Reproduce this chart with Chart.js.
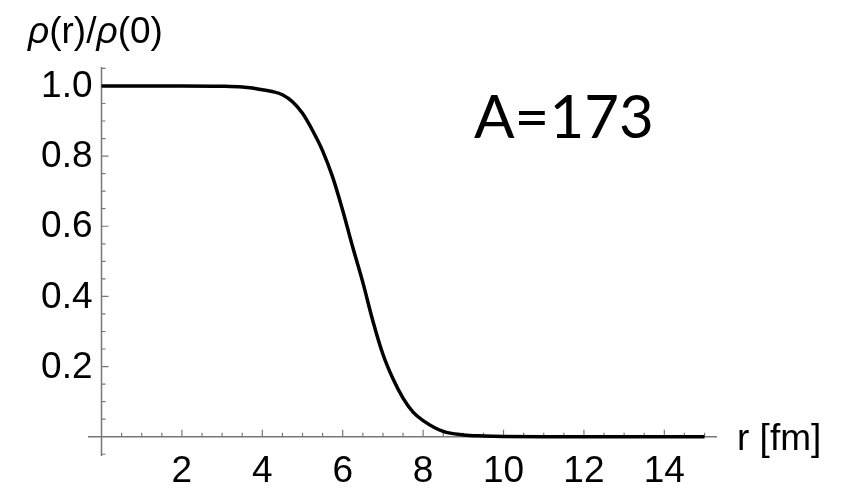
<!DOCTYPE html>
<html>
<head>
<meta charset="utf-8">
<script src="https://cdn.jsdelivr.net/npm/chart.js@4"></script>
<style>
    html, body { margin: 0; padding: 0; background: #fff; }
    #wrap { width: 851px; height: 488px; }
</style>
</head>
<body>
<div id="wrap"><canvas id="densityChart"></canvas></div>
<script>
// radius values (fm) and normalised density
const rValues = [0, 1, 2, 3, 3.5, 3.75, 4, 4.25, 4.5, 4.75, 5, 5.25, 5.5, 5.75, 6, 6.25, 6.5, 6.75, 7, 7.25, 7.5, 7.75, 8, 8.5, 9, 9.5, 10, 11, 12, 13, 14, 15];
const densityValues = [1, 1, 1, 0.999, 0.997, 0.994, 0.989, 0.984, 0.975, 0.955, 0.922, 0.873, 0.815, 0.74, 0.645, 0.54, 0.44, 0.33, 0.235, 0.165, 0.11, 0.07, 0.046, 0.015, 0.005, 0.002, 0.0005, 0, 0, 0, 0, 0];

const xTickValues = [2, 4, 6, 8, 10, 12, 14];
const xTickLabels = ['2', '4', '6', '8', '10', '12', '14'];
const yTickValues = [0.2, 0.4, 0.6, 0.8, 1.0];
const yTickLabels = ['0.2', '0.4', '0.6', '0.8', '1.0'];

const tickFont = '37px "Liberation Sans", Arial, sans-serif';
const axisColor = '#777';

// axes crossing at the origin, Mathematica style (ticks pointing inward)
const crossAxes = {
    id: 'crossAxes',
    beforeDatasetsDraw(chart) {
        const ctx = chart.ctx;
        const xs = chart.scales.x;
        const ys = chart.scales.y;
        const area = chart.chartArea;
        const x0 = xs.getPixelForValue(0);
        const y0 = ys.getPixelForValue(0);

        ctx.save();
        ctx.strokeStyle = axisColor;
        ctx.lineWidth = 1.5;
        ctx.beginPath();
        ctx.moveTo(area.left, y0);
        ctx.lineTo(area.right, y0);
        ctx.moveTo(x0, area.top);
        ctx.lineTo(x0, area.bottom);
        ctx.stroke();

        // x ticks every 0.5, major every 2
        ctx.lineWidth = 1.2;
        ctx.beginPath();
        for (let i = 1; i <= 30; i++) {
            const v = i * 0.5;
            const px = xs.getPixelForValue(v);
            const len = (v % 2 === 0) ? 7 : 4;
            ctx.moveTo(px, y0);
            ctx.lineTo(px, y0 - len);
        }
        // y ticks every 0.05, major every 0.2
        for (let i = -1; i <= 21; i++) {
            if (i === 0) continue;
            const v = i * 0.05;
            const py = ys.getPixelForValue(v);
            const len = (i % 4 === 0) ? 7 : 4;
            ctx.moveTo(x0, py);
            ctx.lineTo(x0 + len, py);
        }
        ctx.stroke();
        ctx.restore();
    },
    afterDraw(chart) {
        const ctx = chart.ctx;
        const xs = chart.scales.x;
        const ys = chart.scales.y;
        const x0 = xs.getPixelForValue(0);
        const y0 = ys.getPixelForValue(0);

        ctx.save();
        ctx.fillStyle = '#000';
        ctx.font = tickFont;

        ctx.textAlign = 'center';
        ctx.textBaseline = 'alphabetic';
        xTickValues.forEach((v, i) => {
            ctx.fillText(xTickLabels[i], xs.getPixelForValue(v), y0 + 45);
        });

        ctx.textAlign = 'right';
        ctx.textBaseline = 'middle';
        yTickValues.forEach((v, i) => {
            ctx.fillText(yTickLabels[i], x0 - 9, ys.getPixelForValue(v) + 1);
        });

        // x axis title
        ctx.textAlign = 'left';
        ctx.textBaseline = 'alphabetic';
        ctx.fillText('r [fm]', 737, y0 + 13);

        // y axis title with italic rho
        let tx = 28;
        const parts = [['ρ', true], ['(r)/', false], ['ρ', true], ['(0)', false]];
        parts.forEach(([txt, italic]) => {
            ctx.font = (italic ? 'italic ' : '') + '37px "Liberation Sans", Arial, sans-serif';
            ctx.fillText(txt, tx, 43);
            tx += ctx.measureText(txt).width;
        });

        // annotation
        ctx.font = '60px Lato, "Open Sans", sans-serif';
        ctx.fillText('A=173', 474, 138);
        ctx.restore();
    }
};

new Chart(document.getElementById('densityChart'), {
    type: 'line',
    data: {
        datasets: [{
            data: rValues.map((r, i) => ({ x: r, y: densityValues[i] })),
            borderColor: '#000',
            borderWidth: 3.5,
            pointRadius: 0,
            cubicInterpolationMode: 'monotone',
            fill: false
        }]
    },
    options: {
        responsive: true,
        maintainAspectRatio: false,
        animation: false,
        layout: { padding: { left: 88, right: 134, top: 67, bottom: 32 } },
        scales: {
            x: { type: 'linear', min: -0.336, max: 15.31, display: false },
            y: { type: 'linear', min: -0.055, max: 1.054, display: false }
        },
        plugins: {
            legend: { display: false },
            tooltip: { enabled: false }
        }
    },
    plugins: [crossAxes]
});
</script>
</body>
</html>
